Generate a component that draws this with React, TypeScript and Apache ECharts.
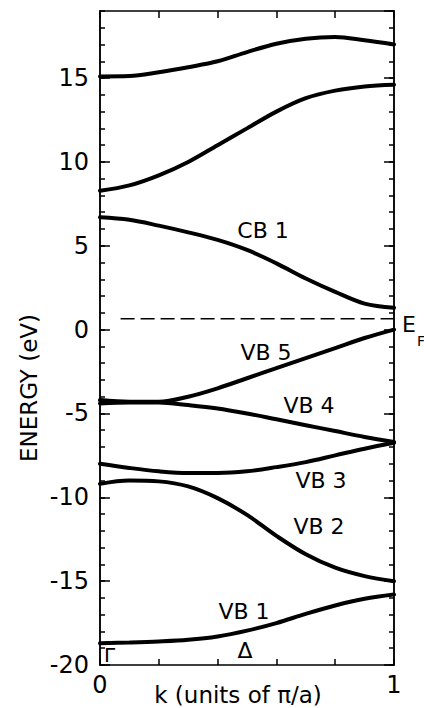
import React, { useEffect, useRef } from "react";
import * as echarts from "echarts";

const K = [0, 0.1, 0.2, 0.3, 0.4, 0.5, 0.6, 0.7, 0.8, 0.9, 1.0];
const band7 = [15.1, 15.12, 15.35, 15.65, 16.0, 16.55, 17.05, 17.35, 17.45, 17.25, 17.0];
const band6 = [8.28, 8.6, 9.2, 10.0, 11.0, 12.0, 13.0, 13.8, 14.25, 14.5, 14.6];
const cb1 = [6.7, 6.55, 6.2, 5.8, 5.35, 4.75, 3.95, 3.05, 2.25, 1.55, 1.3];
const vb5 = [-4.2, -4.3, -4.3, -4.0, -3.5, -2.9, -2.3, -1.7, -1.1, -0.5, 0.0];
const vb4 = [-4.4, -4.35, -4.35, -4.5, -4.7, -5.0, -5.35, -5.7, -6.05, -6.4, -6.7];
const vb3 = [-8.0, -8.25, -8.45, -8.55, -8.55, -8.45, -8.2, -7.9, -7.5, -7.1, -6.75];
const vb2 = [-9.2, -9.0, -9.05, -9.35, -10.05, -11.05, -12.3, -13.4, -14.2, -14.7, -15.0];
const vb1 = [-18.7, -18.66, -18.6, -18.5, -18.3, -17.95, -17.5, -16.95, -16.45, -16.05, -15.8];
const fermiK = [0.07, 1.0];
const fermiE = 0.65;
const xTickLabels = [0, 1];
const yMin = -20;
const yMax = 19;

const FONT = "DejaVu Sans";

export default function App() {
  const ref = useRef<HTMLDivElement>(null);
  useEffect(() => {
    if (!ref.current) return;
    const chart = echarts.init(ref.current, undefined, { renderer: "svg" });
    const bands = [band7, band6, cb1, vb5, vb4, vb3, vb2, vb1];
    const lineStyleBase = { color: "#000", width: 1.5 };
    const yBase = (pos: string, interval: number, len: number, labels: boolean) => ({
      type: "value",
      position: pos,
      min: yMin,
      max: yMax,
      interval,
      axisLine: { show: true, onZero: false, lineStyle: lineStyleBase },
      axisTick: { show: true, inside: true, length: len, lineStyle: lineStyleBase },
      axisLabel: labels
        ? {
            show: true,
            margin: 11,
            color: "#000",
            fontFamily: FONT,
            fontSize: 24,
            showMaxLabel: false,
            formatter: (v: number) => (v % 5 === 0 ? String(v) : ""),
          }
        : { show: false },
      splitLine: { show: false },
    });
    const text = (t: string, x: number, y: number, size = 22, extra: any = {}) => ({
      type: "text",
      x,
      y,
      ...extra,
      style: {
        text: t,
        fill: "#000",
        fontFamily: FONT,
        fontSize: size,
        align: extra.align || "center",
        verticalAlign: "middle",
      },
    });
    chart.setOption({
      animation: false,
      backgroundColor: "#fff",
      grid: { left: 100, top: 11, width: 294, height: 654, containLabel: false },
      xAxis: [
        {
          type: "value",
          position: "bottom",
          min: 0,
          max: 1,
          interval: 0.2,
          axisLine: { show: true, onZero: false, lineStyle: lineStyleBase },
          axisTick: { show: true, inside: true, length: 6, lineStyle: lineStyleBase },
          axisLabel: {
            show: true,
            margin: 8,
            color: "#000",
            fontFamily: FONT,
            fontSize: 24,
            formatter: (v: number) =>
              xTickLabels.some((t) => Math.abs(t - v) < 1e-6) ? String(Math.round(v)) : "",
          },
          splitLine: { show: false },
        },
        {
          type: "value",
          position: "top",
          min: 0,
          max: 1,
          interval: 0.2,
          axisLine: { show: true, onZero: false, lineStyle: lineStyleBase },
          axisTick: { show: true, inside: true, length: 7, lineStyle: lineStyleBase },
          axisLabel: { show: false },
          splitLine: { show: false },
        },
      ],
      yAxis: [
        yBase("left", 5, 10, true),
        yBase("left", 1, 5, false),
        yBase("right", 5, 10, false),
        yBase("right", 1, 5, false),
      ],
      series: [
        ...bands.map((b) => ({
          type: "line",
          xAxisIndex: 0,
          yAxisIndex: 0,
          data: K.map((k, i) => [k, b[i]]),
          smooth: 0.35,
          showSymbol: false,
          symbol: "none",
          lineStyle: { color: "#000", width: 4, cap: "round" },
          silent: true,
        })),
        {
          type: "line",
          xAxisIndex: 0,
          yAxisIndex: 0,
          data: fermiK.map((k) => [k, fermiE]),
          showSymbol: false,
          symbol: "none",
          lineStyle: { color: "#000", width: 1.5, type: [14, 6] },
          silent: true,
        },
      ],
      graphic: [
        text("CB 1", 263, 230),
        text("VB 5", 266, 352),
        text("VB 4", 309, 405),
        text("VB 3", 321, 480),
        text("VB 2", 319, 526),
        text("VB 1", 244, 611),
        text("Δ", 245, 650, 22),
        text("Γ", 104, 655, 20, { align: "left" }),
        text("E", 402, 324, 22, { align: "left" }),
        text("F", 417, 341, 14, { align: "left" }),
        text("ENERGY (eV)", 29, 388, 23, { rotation: Math.PI / 2 }),
        text("k (units of π/a)", 238, 695, 23),
      ],
    });
    return () => chart.dispose();
  }, []);
  return (
    <div
      ref={ref}
      style={{ position: "absolute", left: 0, top: 0, width: 424, height: 708 }}
    />
  );
}
